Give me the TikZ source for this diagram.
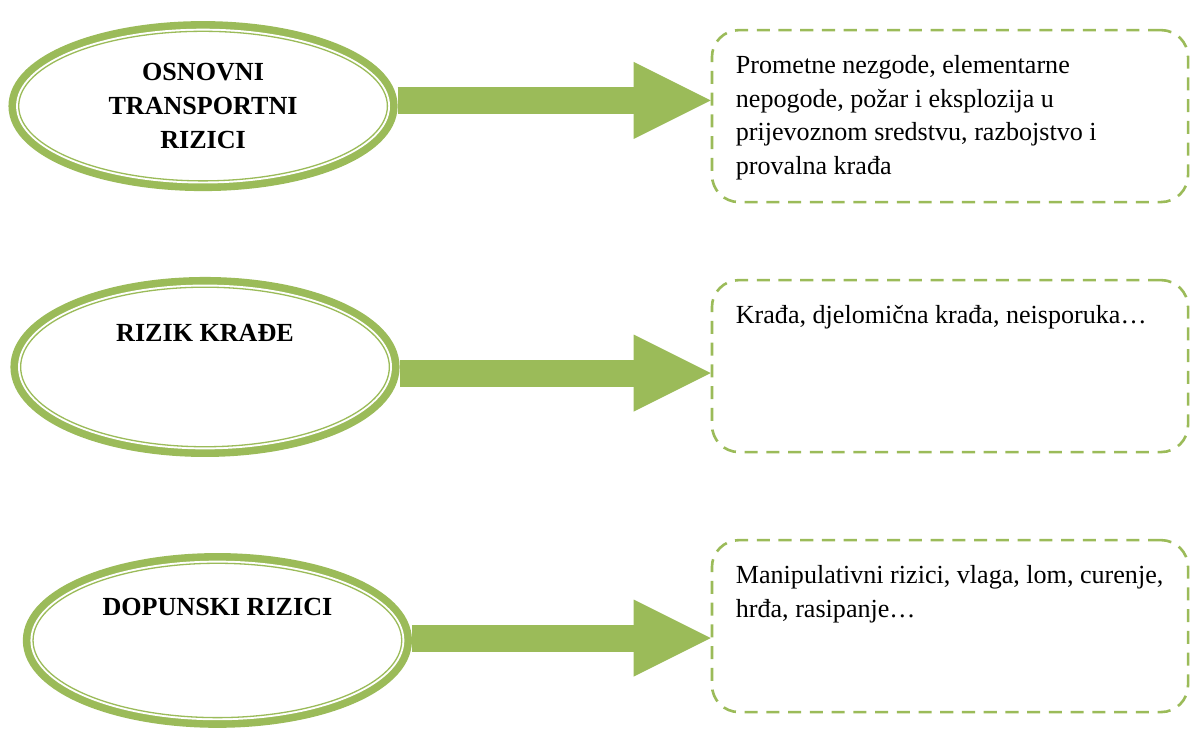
\documentclass[tikz,border=0pt]{standalone}
\usepackage{fontspec}
\setmainfont{Liberation Serif}
\usepackage{tikz}
\usetikzlibrary{arrows.meta,shapes.geometric}
\definecolor{riskgreen}{RGB}{155,187,89}
\tikzstyle{riskoval}=[ellipse,draw=riskgreen,line width=0.6pt,fill=white,
                  preaction={draw=riskgreen,line width=9.4pt},
                  preaction={draw=white,line width=2.4pt},
                  minimum width=169.6pt,minimum height=71pt,inner sep=0pt,outer sep=4.7pt,
                  align=center,font=\fontsize{12}{15.5}\selectfont\bfseries]
\tikzstyle{riskbox}=[rectangle,rounded corners=12.4pt,draw=riskgreen,line width=1.2pt,
                  dash pattern=on 6pt off 4pt,minimum width=219pt,minimum height=79.1pt,
                  inner sep=0pt,font=\fontsize{12}{15.5}\selectfont]
\tikzstyle{fatarrow}=[draw=riskgreen,line width=12.4pt,
                  -{Triangle[length=35.4pt,width=35.4pt,line width=0pt]}]
\newcommand{\boxtext}[1]{\parbox[c][61pt][t]{197pt}{\strut #1}}

\begin{document}
\begin{tikzpicture}[x=1pt,y=1pt]
      \useasboundingbox (0,0) rectangle (547.4,335.8);

      \node[riskoval,minimum height=68.8pt] (e1) at (93.4,287.0) {OSNOVNI\\TRANSPORTNI\\RIZICI};
      \node[riskoval,minimum height=73.4pt] (e2) at (94.3,167.0) {RIZIK KRAĐE\\ \mbox{}\\ \mbox{}};
      \node[riskoval] (e3) at (100.0,41.2) {DOPUNSKI RIZICI\\ \mbox{}\\ \mbox{}};

      \node[riskbox] (b1) at (437.0,282.4) {\boxtext{Prometne nezgode, elementarne\\
            nepogode, požar i eksplozija u\\ prijevoznom sredstvu, razbojstvo i\\ provalna krađa}};
      \node[riskbox] (b2) at (437.0,167.4) {\boxtext{Krađa, djelomična krađa, neisporuka…}};
      \node[riskbox] (b3) at (437.0,47.8) {\boxtext{Manipulativni rizici, vlaga, lom, curenje,\\
            hrđa, rasipanje…}};

      \draw[fatarrow] ([yshift=2.6pt]e1.east) -- ([yshift=2.6pt]e1.east -| b1.west);
      \draw[fatarrow] ([yshift=-2.8pt]e2.east) -- ([yshift=-2.8pt]e2.east -| b2.west);
      \draw[fatarrow] ([yshift=1.1pt]e3.east) -- ([yshift=1.1pt]e3.east -| b3.west);
\end{tikzpicture}
\end{document}
